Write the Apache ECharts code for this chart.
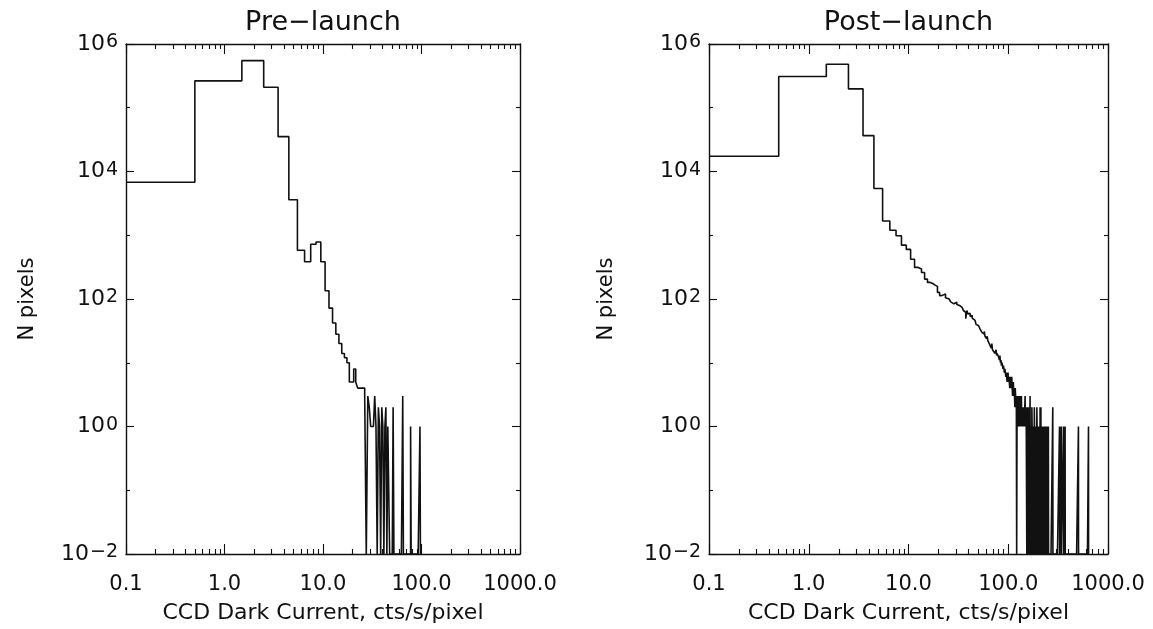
<!DOCTYPE html>
<html><head><meta charset="utf-8">
<script src="https://cdn.jsdelivr.net/npm/echarts@6/dist/echarts.min.js"></script>
<style>html,body{margin:0;padding:0;background:#fff}#c{width:1153px;height:629px}</style>
</head><body><div id="c"></div>
<script>
// ---------- data ----------
const panelTitles = ['Pre\u2212launch', 'Post\u2212launch'];
const xAxisName = 'CCD Dark Current, cts/s/pixel';
const yAxisName = 'N pixels';
const xTickValues = [0.1, 1, 10, 100, 1000];
const xTickLabels = ['0.1', '1.0', '10.0', '100.0', '1000.0'];
const xMinorTickValues = [0.2, 0.3, 0.4, 0.5, 0.6, 0.7, 0.8, 0.9,
  2, 3, 4, 5, 6, 7, 8, 9, 20, 30, 40, 50, 60, 70, 80, 90,
  200, 300, 400, 500, 600, 700, 800, 900];
const yTickValues = [0.01, 1, 100, 10000, 1000000];
const yTickExponents = ['\u22122', '0', '2', '4', '6'];
const yMinorTickValues = [0.1, 10, 1000, 100000];

const binWidth = 1;          // cts/s/pixel, bins centred on integers
// Pre-launch histogram: counts for bins 0,1,2,... plus isolated bins further out
const preCounts = [6800, 264000, 548000, 210000, 35200, 3600, 583, 383, 723, 785,
  383, 135, 72, 42, 28, 20, 14, 12, 10, 5,
  5, 8, 5, 4, 4, 4, 4, 3, 0, 3,
  2, 1, 1, 1, 3, 1, 0, 2, 1, 0,
  2, 1, 0, 1, 2, 0, 1, 1];
const preExtraBins = [52, 65, 78, 97];
const preExtraCounts = [2, 3, 1, 1];
// Post-launch histogram
const postCounts = [17300, 310000, 480000, 198000, 36500, 5420, 1675, 1200, 980, 700,
  600, 420, 313, 295, 261, 205, 182, 175, 165, 158,
  127, 113, 116, 120, 105, 100, 98, 90, 84, 86,
  89, 82, 79, 76, 74, 70, 66, 62, 49, 66,
  58, 60, 53, 55, 50, 47, 46, 43, 40, 42,
  38, 36, 40, 33, 35, 30, 32, 28, 31, 26,
  27, 24, 26, 22, 23, 20, 21, 19, 17, 20,
  16, 17, 15, 17, 14, 15, 16, 13, 14, 15,
  14, 12, 11, 13, 10, 11, 9, 10, 9, 8,
  9, 8, 7, 8, 7, 6, 7, 6, 5, 6,
  7, 5, 6, 5, 4, 6, 5, 4, 5, 6,
  4, 3, 4, 5, 3, 4, 3, 2, 4, 3,
  2, 3, 0, 2, 3, 1, 2, 3, 1, 2,
  1, 3, 1, 2, 2, 1, 3, 1, 2, 1,
  1, 2, 1, 1, 2, 1, 1, 1, 3, 1,
  1, 2, 1, 1, 0, 1, 2, 0, 1, 1,
  0, 1, 2, 1, 0, 1, 3, 0, 1, 0,
  1, 1, 0, 2, 1, 0, 1, 0, 1, 1,
  0, 1, 0, 2, 1, 0, 1, 1, 0, 1,
  0, 1, 1, 0, 2, 1, 0, 1, 0, 1,
  1, 0, 1, 0, 1, 1, 0, 1, 0, 2,
  1, 0, 1, 2, 0, 1, 0, 1, 1, 0,
  1, 0, 1, 0, 1, 1, 0, 1, 0, 1,
  0, 1, 0, 1, 1, 0, 1, 0, 1, 0,
  0, 1, 0, 1, 0, 1, 0, 0, 1, 0,
  1, 0, 0, 1];
const postExtraBins = [280, 327, 340, 358, 372, 506, 638];
const postExtraCounts = [2, 1, 1, 1, 1, 1, 1];

// ---------- build ----------
const X_MIN = 0.1, X_MAX = 1000, Y_MIN = 0.01, Y_MAX = 1e6;
function stepPoints(counts, extraBins, extraCounts) {
  const m = new Map();
  counts.forEach((c, i) => m.set(i, c));
  extraBins.forEach((b, i) => m.set(b, extraCounts[i]));
  const last = Math.max(...m.keys());
  const pts = [];
  for (let b = 0; b <= last; b++) {
    const c = m.has(b) ? m.get(b) : 0;
    pts.push([Math.max(b - binWidth / 2, X_MIN), c > 0 ? c : Y_MIN]); // empty bins sit on the floor of the log axis
  }
  pts.push([last + binWidth / 2, Y_MIN]);
  return pts;
}
const FONT = 'DejaVu Sans';
const INK = '#111';
const frameLine = { show: true, lineStyle: { color: INK, width: 1.4 } };
const tickStyle = { color: INK, width: 1.1 };
const grids = [
  { left: 126, top: 44, width: 394, height: 512 },
  { left: 709, top: 44, width: 399, height: 512 }
];
const xAxes = [], yAxes = [], series = [];
[[preCounts, preExtraBins, preExtraCounts], [postCounts, postExtraBins, postExtraCounts]].forEach((d, p) => {
  const xBase = { gridIndex: p, type: 'log', logBase: 10, min: X_MIN, max: X_MAX, splitLine: { show: false } };
  const yBase = { gridIndex: p, type: 'log', logBase: 10, min: Y_MIN, max: Y_MAX, splitLine: { show: false } };
  xAxes.push(Object.assign({}, xBase, {
    position: 'bottom', axisLine: frameLine,
    axisTick: { inside: true, length: 10, customValues: xTickValues, lineStyle: tickStyle },
    axisLabel: { customValues: xTickValues, margin: 20, fontFamily: FONT, fontSize: 21, color: INK,
      showMinLabel: true, showMaxLabel: true, hideOverlap: false,
      formatter: v => { const e = Math.round(Math.log10(v)); const i = xTickValues.findIndex(t => Math.round(Math.log10(t)) === e); return i >= 0 ? xTickLabels[i] : ''; } },
    name: xAxisName, nameLocation: 'middle', nameGap: 48,
    nameTextStyle: { fontFamily: FONT, fontSize: 22, color: INK }
  }));
  xAxes.push(Object.assign({}, xBase, {
    position: 'bottom', axisLine: { show: false },
    axisTick: { inside: true, length: 5, customValues: xMinorTickValues, lineStyle: tickStyle },
    axisLabel: { show: false }
  }));
  xAxes.push(Object.assign({}, xBase, {
    position: 'top', axisLine: frameLine,
    axisTick: { inside: true, length: 10, customValues: xTickValues, lineStyle: tickStyle },
    axisLabel: { show: false },
    name: panelTitles[p], nameLocation: 'middle', nameGap: 8,
    nameTextStyle: { fontFamily: FONT, fontSize: 27, color: INK, verticalAlign: 'bottom' }
  }));
  xAxes.push(Object.assign({}, xBase, {
    position: 'top', axisLine: { show: false },
    axisTick: { inside: true, length: 5, customValues: xMinorTickValues, lineStyle: tickStyle },
    axisLabel: { show: false }
  }));
  yAxes.push(Object.assign({}, yBase, {
    position: 'left', axisLine: frameLine,
    axisTick: { inside: true, length: 8, customValues: yTickValues, lineStyle: tickStyle },
    axisLabel: { customValues: yTickValues, margin: 8, color: INK, showMinLabel: true, showMaxLabel: true, hideOverlap: false,
      formatter: v => { const e = Math.round(Math.log10(v)); const i = yTickValues.findIndex(t => Math.round(Math.log10(t)) === e); return i >= 0 ? '{b|10}{e|' + yTickExponents[i] + '}' : ''; },
      rich: {
        b: { fontFamily: FONT, fontSize: 22, color: INK, lineHeight: 22, padding: [10, 0, 10, 0], verticalAlign: 'middle' },
        e: { fontFamily: FONT, fontSize: 19, color: INK, lineHeight: 19, padding: [0, 0, 0, 1], verticalAlign: 'top' }
      } },
    name: yAxisName, nameLocation: 'middle', nameGap: p === 0 ? 88 : 92, nameRotate: 90,
    nameTextStyle: { fontFamily: FONT, fontSize: 21, color: INK }
  }));
  yAxes.push(Object.assign({}, yBase, {
    position: 'left', axisLine: { show: false },
    axisTick: { inside: true, length: 4, customValues: yMinorTickValues, lineStyle: tickStyle },
    axisLabel: { show: false }
  }));
  yAxes.push(Object.assign({}, yBase, {
    position: 'right', axisLine: frameLine,
    axisTick: { inside: true, length: 8, customValues: yTickValues, lineStyle: tickStyle },
    axisLabel: { show: false }
  }));
  yAxes.push(Object.assign({}, yBase, {
    position: 'right', axisLine: { show: false },
    axisTick: { inside: true, length: 4, customValues: yMinorTickValues, lineStyle: tickStyle },
    axisLabel: { show: false }
  }));
  series.push({
    type: 'line', xAxisIndex: p * 4, yAxisIndex: p * 4, step: 'end',
    showSymbol: false, symbol: 'none', clip: true, silent: true,
    lineStyle: { color: INK, width: 1.6 },
    data: stepPoints(d[0], d[1], d[2])
  });
});
const chart = echarts.init(document.getElementById('c'), null, { renderer: 'canvas' });
chart.setOption({
  animation: false,
  backgroundColor: '#fff',
  grid: grids,
  xAxis: xAxes,
  yAxis: yAxes,
  series: series
});
</script>
</body></html>
